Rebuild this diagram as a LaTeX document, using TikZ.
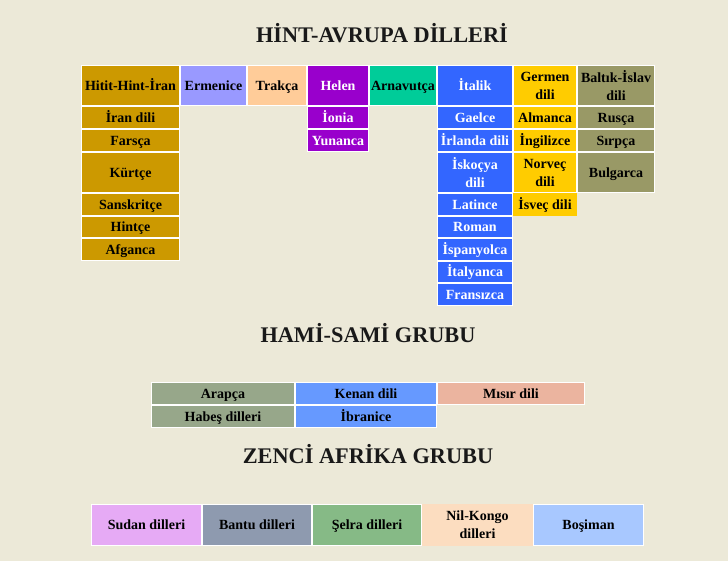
\documentclass[tikz,border=0pt]{standalone}
\usepackage{fontspec}
\setmainfont{Liberation Serif}
\definecolor{bgC}{HTML}{ECE9D8}
\definecolor{hititC}{HTML}{CC9900}
\definecolor{ermC}{HTML}{9999FF}
\definecolor{trakC}{HTML}{FFCC99}
\definecolor{helenC}{HTML}{9900CC}
\definecolor{arnC}{HTML}{00CC99}
\definecolor{italC}{HTML}{3366FF}
\definecolor{germC}{HTML}{FFCC00}
\definecolor{baltC}{HTML}{999966}
\definecolor{arapC}{HTML}{97A78A}
\definecolor{kenanC}{HTML}{6699FF}
\definecolor{misirC}{HTML}{EBB49F}
\definecolor{sudanC}{HTML}{E6AAF5}
\definecolor{bantuC}{HTML}{8E9AAF}
\definecolor{selraC}{HTML}{86BA86}
\definecolor{nilC}{HTML}{FCDDC0}
\definecolor{bosC}{HTML}{A8C8FF}
\tikzset{
  cellbox/.style={draw=white, line width=1pt, inner sep=0pt, outer sep=0pt,
    align=center, text=black,
    font=\fontsize{14}{18}\selectfont\bfseries},
  one/.style={text height=11pt, text depth=1.7pt},
  title/.style={anchor=base, inner sep=0pt, text=black!90,
    font=\fontsize{22.3}{27}\selectfont\bfseries},
  hitit/.style={fill=hititC},
  erm/.style={fill=ermC},
  trak/.style={fill=trakC},
  helen/.style={fill=helenC, text=white},
  arn/.style={fill=arnC},
  ital/.style={fill=italC, text=white},
  germ/.style={fill=germC},
  balt/.style={fill=baltC},
  arap/.style={fill=arapC},
  kenan/.style={fill=kenanC},
  misir/.style={fill=misirC},
  sudan/.style={fill=sudanC},
  bantu/.style={fill=bantuC},
  selra/.style={fill=selraC},
  nil/.style={fill=nilC, draw=nilC},
  bos/.style={fill=bosC},
}
\newcommand{\cellnode}[7][]{%
  \node[cellbox,#1,minimum width={#5-#3+1},minimum height={#6-#4+1}]
    (#2) at ({(#3+#5)/2},{(#4+#6)/2}) {#7};}
\begin{document}
\begin{tikzpicture}[x=1pt,y=-1pt]
\fill[bgC] (0,0) rectangle (728,561);
\useasboundingbox (0,0) rectangle (728,561);

% titles
\node[title] (t1) at (382,43) {HİNT-AVRUPA DİLLERİ};
\node[title] (t2) at (368,342) {HAMİ-SAMİ GRUBU};
\node[title] (t3) at (368,463) {ZENCİ AFRİKA GRUBU};

% header row
\cellnode[hitit,one]{h1}{82}{66}{179}{105}{Hitit-Hint-İran}
\cellnode[erm,one]{h2}{181}{66}{246}{105}{Ermenice}
\cellnode[trak,one]{h3}{248}{66}{306}{105}{Trakça}
\cellnode[helen,one]{h4}{308}{66}{368}{105}{Helen}
\cellnode[arn,one]{h5}{370}{66}{436}{105}{Arnavutça}
\cellnode[ital,one]{h6}{438}{66}{512}{105}{İtalik}
\cellnode[germ]{h7}{514}{66}{576}{105}{Germen\\dili}
\cellnode[balt]{h8}{578}{66}{654}{105}{Baltık-İslav\\dili}

% Hitit column
\cellnode[hitit,one]{a1}{82}{107}{179}{128}{İran dili}
\cellnode[hitit,one]{a2}{82}{130}{179}{151}{Farsça}
\cellnode[hitit,one]{a3}{82}{153}{179}{192}{Kürtçe}
\cellnode[hitit,one]{a4}{82}{194}{179}{215}{Sanskritçe}
\cellnode[hitit,one]{a5}{82}{217}{179}{237}{Hintçe}
\cellnode[hitit,one]{a6}{82}{239}{179}{260}{Afganca}

% Helen column
\cellnode[helen,one]{b1}{308}{107}{368}{128}{İonia}
\cellnode[helen,one]{b2}{308}{130}{368}{151}{Yunanca}

% Italik column
\cellnode[ital,one]{c1}{438}{107}{512}{128}{Gaelce}
\cellnode[ital,one]{c2}{438}{130}{512}{151}{İrlanda dili}
\cellnode[ital]{c3}{438}{153}{512}{192}{İskoçya\\dili}
\cellnode[ital,one]{c4}{438}{194}{512}{215}{Latince}
\cellnode[ital,one]{c5}{438}{217}{512}{237}{Roman}
\cellnode[ital,one]{c6}{438}{239}{512}{260}{İspanyolca}
\cellnode[ital,one]{c7}{438}{262}{512}{282}{İtalyanca}
\cellnode[ital,one]{c8}{438}{284}{512}{305}{Fransızca}

% Germen column
\cellnode[germ,one]{d1}{514}{107}{576}{128}{Almanca}
\cellnode[germ,one]{d2}{514}{130}{576}{151}{İngilizce}
\cellnode[germ]{d3}{514}{153}{576}{192}{Norveç\\dili}
\cellnode[germ,one,draw=germC]{d4}{514}{194}{576}{215}{İsveç dili}

% Baltik column
\cellnode[balt,one]{e1}{578}{107}{654}{128}{Rusça}
\cellnode[balt,one]{e2}{578}{130}{654}{151}{Sırpça}
\cellnode[balt,one]{e3}{578}{153}{654}{192}{Bulgarca}

% Hami-Sami
\cellnode[arap,one]{f1}{152}{383}{294}{404}{Arapça}
\cellnode[kenan,one]{f2}{296}{383}{436}{404}{Kenan dili}
\cellnode[misir,one]{f3}{438}{383}{584}{404}{Mısır dili}
\cellnode[arap,one]{f4}{152}{406}{294}{427}{Habeş dilleri}
\cellnode[kenan,one]{f5}{296}{406}{436}{427}{İbranice}

% Zenci Afrika
\cellnode[sudan,one]{g1}{92}{505}{201}{545}{Sudan dilleri}
\cellnode[bantu,one]{g2}{203}{505}{311}{545}{Bantu dilleri}
\cellnode[selra,one]{g3}{313}{505}{421}{545}{Şelra dilleri}
\cellnode[nil]{g4}{423}{505}{532}{545}{Nil-Kongo\\dilleri}
\cellnode[bos,one]{g5}{534}{505}{643}{545}{Boşiman}
\end{tikzpicture}
\end{document}
